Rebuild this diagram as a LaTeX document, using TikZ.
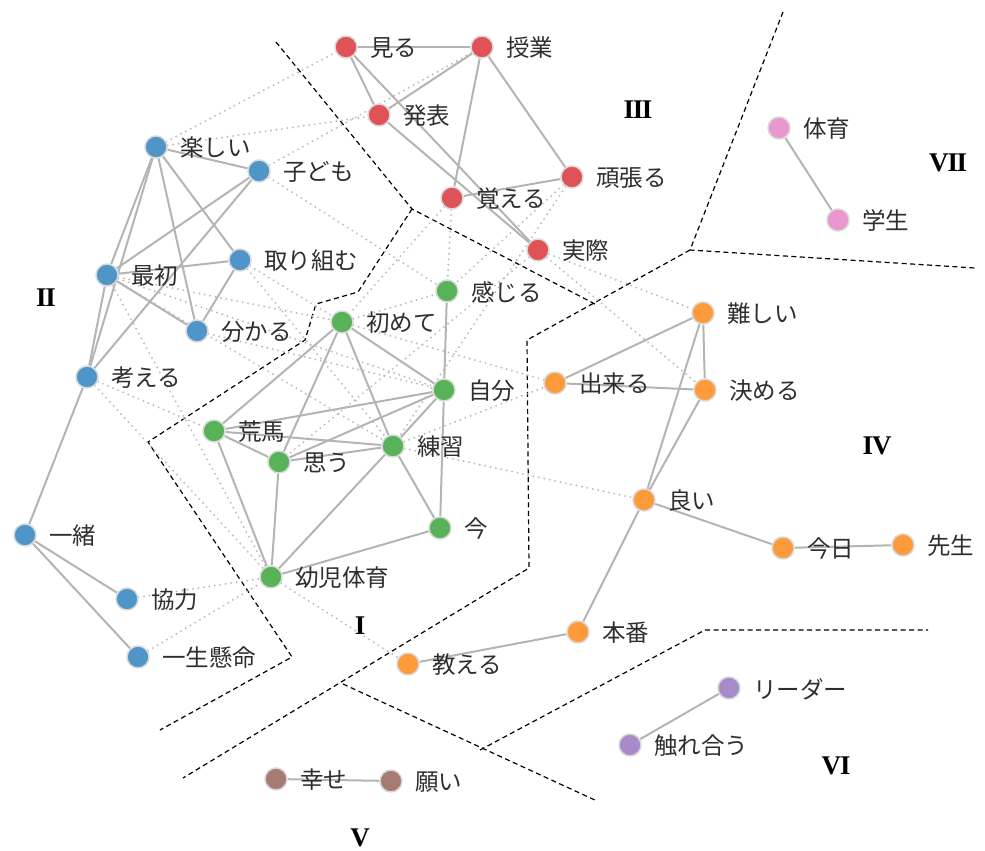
\documentclass[tikz,border=0pt]{standalone}
\usepackage{fontspec}
\newfontfamily\jpfont{Noto Sans CJK JP}
\newfontfamily\romfont{Liberation Serif}
\usetikzlibrary{backgrounds}
\definecolor{cblue}{HTML}{4F95C8}
\definecolor{cred}{HTML}{DF5257}
\definecolor{cgreen}{HTML}{58B358}
\definecolor{corange}{HTML}{FD9B3B}
\definecolor{cpink}{HTML}{EA96CF}
\definecolor{cpurple}{HTML}{A98AC9}
\definecolor{cbrown}{HTML}{A67B72}
\definecolor{edgegray}{HTML}{B4B4B4}
\definecolor{dotgray}{HTML}{BEBEBE}
\definecolor{txtgray}{HTML}{2E2E2E}
\tikzset{
  vtx/.style={circle, minimum size=22pt, inner sep=0pt, draw=black!15, line width=1.5pt},
  lbl/.style={anchor=west, inner sep=0pt, text=txtgray, font=\jpfont\fontsize{23.5}{26}\selectfont},
  solidedge/.style={draw=edgegray, line width=2pt},
  dotedge/.style={draw=dotgray, line width=2.2pt, line cap=round, dash pattern=on 0pt off 5.5pt},
  border/.style={draw=black, line width=1.2pt, dash pattern=on 5pt off 3.5pt},
  roman/.style={font=\romfont\bfseries\fontsize{27}{29}\selectfont, inner sep=0pt}
}
\newcommand\mkv[5]{%
  \node[vtx, fill=#4] (#1) at (#2,#3) {};
  \node[lbl] (#1-l) at ([xshift=24pt,yshift=-1pt]#1.center) {#5};
}
\begin{document}
\begin{tikzpicture}[x=1pt,y=-1pt]
\useasboundingbox (0,0) rectangle (985,851);
% red
\mkv{miru}{346}{47}{cred}{見る}
\mkv{jugyo}{482}{47}{cred}{授業}
\mkv{happyo}{379}{115}{cred}{発表}
\mkv{ganbaru}{572}{177}{cred}{頑張る}
\mkv{oboeru}{452}{198}{cred}{覚える}
\mkv{jissai}{538}{250}{cred}{実際}
% blue
\mkv{tanoshii}{156}{147}{cblue}{楽しい}
\mkv{kodomo}{259}{171}{cblue}{子ども}
\mkv{saisho}{107}{275}{cblue}{最初}
\mkv{torikumu}{240}{260}{cblue}{取り組む}
\mkv{wakaru}{197}{331}{cblue}{分かる}
\mkv{kangaeru}{87}{377}{cblue}{考える}
\mkv{issho}{25}{535}{cblue}{一緒}
\mkv{kyoryoku}{127}{599}{cblue}{協力}
\mkv{isshokenmei}{138}{657}{cblue}{一生懸命}
% green
\mkv{kanjiru}{447}{291}{cgreen}{感じる}
\mkv{hajimete}{342}{322}{cgreen}{初めて}
\mkv{jibun}{444}{390}{cgreen}{自分}
\mkv{arauma}{214}{431}{cgreen}{荒馬}
\mkv{omou}{279}{462}{cgreen}{思う}
\mkv{renshu}{393}{446}{cgreen}{練習}
\mkv{ima}{440}{528}{cgreen}{今}
\mkv{yoji}{271}{577}{cgreen}{幼児体育}
% orange
\mkv{muzukashii}{703}{313}{corange}{難しい}
\mkv{dekiru}{555}{383}{corange}{出来る}
\mkv{kimeru}{705}{390}{corange}{決める}
\mkv{yoi}{644}{500}{corange}{良い}
\mkv{kyou}{783}{548}{corange}{今日}
\mkv{sensei}{903}{545}{corange}{先生}
\mkv{honban}{578}{632}{corange}{本番}
\mkv{oshieru}{408}{664}{corange}{教える}
% pink, purple, brown
\mkv{taiiku}{779}{128}{cpink}{体育}
\mkv{gakusei}{838}{220}{cpink}{学生}
\mkv{leader}{729}{688}{cpurple}{リーダー}
\mkv{fureau}{630}{745}{cpurple}{触れ合う}
\mkv{shiawase}{276}{779}{cbrown}{幸せ}
\mkv{negai}{391}{781}{cbrown}{願い}
% roman numerals
\node[roman] (r1) at (360,626) {I};
\node[roman] (r2) at (46,298) {I\kern-1.5pt I};
\node[roman] (r3) at (638,110) {I\kern-1.5pt I\kern-1.5pt I};
\node[roman] (r4) at (877,446) {I\kern-1pt V};
\node[roman] (r5) at (360,838) {V};
\node[roman] (r6) at (836,766) {V\kern-1pt I};
\node[roman] (r7) at (948,163) {V\kern-1pt I\kern-1.5pt I};
\begin{pgfonlayer}{background}
% region borders
\draw[border] (276,42) -- (412,209) -- (595,304);
\draw[border] (412,209) -- (358,292) -- (316,304) -- (305,340) -- (148,442) -- (292,657) -- (160,730);
\draw[border] (783,12) -- (690,250) -- (975,268);
\draw[border] (690,250) -- (527,340) -- (529,568) -- (183,778);
\draw[border] (343,684) -- (597,801);
\draw[border] (480,750) -- (705,630) -- (928,630);
% dotted edges
\foreach \a/\b in {tanoshii/miru, tanoshii/happyo, kodomo/jugyo, kodomo/kanjiru,
  torikumu/hajimete, torikumu/renshu, saisho/hajimete, saisho/jibun, saisho/renshu,
  saisho/yoji, wakaru/jibun, kangaeru/arauma, kangaeru/yoji, kyoryoku/yoji,
  isshokenmei/yoji, yoji/oshieru, oboeru/hajimete, oboeru/kanjiru, ganbaru/kanjiru,
  ganbaru/renshu, jissai/omou, jissai/muzukashii, jissai/kimeru, hajimete/kanjiru,
  hajimete/dekiru, renshu/dekiru, renshu/yoi}
  \draw[dotedge] (\a) -- (\b);
% solid edges
\foreach \a/\b in {miru/jugyo, miru/happyo, miru/jissai, happyo/jugyo, happyo/jissai,
  jugyo/oboeru, jugyo/ganbaru, oboeru/ganbaru,
  tanoshii/kodomo, tanoshii/saisho, tanoshii/kangaeru, tanoshii/wakaru, tanoshii/torikumu,
  kodomo/saisho, kodomo/kangaeru, saisho/torikumu, saisho/wakaru, saisho/kangaeru,
  torikumu/wakaru, kangaeru/issho, issho/kyoryoku, issho/isshokenmei,
  kanjiru/jibun, hajimete/jibun, hajimete/arauma, hajimete/omou, hajimete/renshu,
  jibun/arauma, jibun/omou, jibun/renshu, jibun/ima, arauma/omou, arauma/renshu,
  arauma/yoji, omou/renshu, omou/yoji, renshu/yoji, renshu/ima, ima/yoji,
  muzukashii/dekiru, muzukashii/kimeru, muzukashii/yoi, dekiru/kimeru, kimeru/yoi,
  yoi/kyou, kyou/sensei, yoi/honban, honban/oshieru,
  taiiku/gakusei, leader/fureau, shiawase/negai}
  \draw[solidedge] (\a) -- (\b);
\end{pgfonlayer}
\end{tikzpicture}
\end{document}
